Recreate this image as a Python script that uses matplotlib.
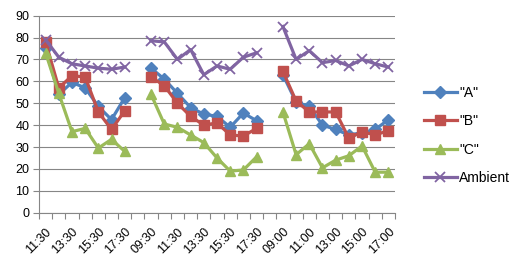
import numpy as np
import matplotlib
matplotlib.use("Agg")
import matplotlib.pyplot as plt
from matplotlib.ticker import FixedLocator

nan = np.nan

categories = ["11:30", "12:30", "13:30", "14:30", "15:30", "16:30", "17:30", "",
              "09:30", "10:30", "11:30", "12:30", "13:30", "14:30", "15:30", "16:30", "17:30", "",
              "09:00", "10:00", "11:00", "12:00", "13:00", "14:00", "15:00", "16:00", "17:00"]

series_a = [75, 54, 59.5, 57, 48.5, 42.5, 52.5, nan,
            66, 61, 54.5, 48, 45, 44, 39, 45.5, 42, nan,
            63, 50.5, 48.5, 40, 38, 35.5, 36.5, 38, 42.5]
series_b = [78, 57, 62.5, 62, 46, 38, 46.5, nan,
            62, 58, 50, 44, 40, 41, 35.5, 35, 38.5, nan,
            64.5, 51, 46, 46, 46, 34, 37, 35.5, 37.5]
series_c = [73, 54.5, 37, 38.5, 29.5, 33.5, 28, nan,
            54, 40.5, 39, 35.5, 32, 25, 19, 19.5, 25.5, nan,
            46, 26.5, 31.5, 20.5, 24, 26, 30.5, 18.5, 18.5]
ambient = [79, 71, 68, 67, 66, 65.5, 66.5, nan,
           78.5, 78, 70, 74.5, 63, 67, 65.5, 71, 73, nan,
           85, 70, 74, 68.5, 69.5, 67, 70, 68, 66.5]

labels = ['"A"', '"B"', '"C"', 'Ambient']
y_ticks = list(range(0, 100, 10))

plt.rcParams['font.family'] = ['Liberation Sans', 'DejaVu Sans']

fig = plt.figure(figsize=(5.28, 2.75), dpi=100)
ax = fig.add_axes([39/528, 1 - 212.7/275, (395-39)/528, (212.7-15.6)/275])

x = np.arange(len(categories))
styles = [
    (series_a, '#4F81BD', 'D', 6.5, 1.0),
    (series_b, '#C0504D', 's', 7.0, 1.0),
    (series_c, '#9BBB59', '^', 7.5, 1.0),
    (ambient, '#8064A2', 'x', 7.0, 1.3),
]
for (vals, col, mk, ms, mew), lab in zip(styles, labels):
    ax.plot(x, vals, color=col, lw=2.3, marker=mk, ms=ms, mew=mew,
            mec=col, mfc=col, label=lab, solid_joinstyle='round')

ax.set_xlim(-0.5, len(categories) - 0.5)
ax.set_ylim(0, 90)
ax.set_yticks(y_ticks)
ax.yaxis.grid(True, color='#868686', lw=0.8)
ax.set_axisbelow(True)

ax.set_xticks(x[::2])
ax.set_xticklabels(categories[::2], rotation=45, ha='right', va='top',
                   rotation_mode='anchor', fontsize=9)
ax.xaxis.set_minor_locator(FixedLocator(np.arange(-0.5, len(categories), 1)))
ax.tick_params(axis='x', which='major', length=0, pad=9.5)
ax.tick_params(axis='x', which='minor', length=4, color='#868686', width=0.8)
ax.tick_params(axis='y', length=4, color='#868686', width=0.8, labelsize=9, pad=3)

for s in ['top', 'right']:
    ax.spines[s].set_visible(False)
for s in ['left', 'bottom']:
    ax.spines[s].set_color('#868686')
    ax.spines[s].set_linewidth(0.8)

leg = fig.legend(loc='upper left', bbox_to_anchor=(418/528, 1 - 80/275), frameon=False,
                 fontsize=10, handlelength=2.4, handletextpad=0.15, labelspacing=1.05,
                 borderaxespad=0)

fig.savefig('out.png', dpi=100)
